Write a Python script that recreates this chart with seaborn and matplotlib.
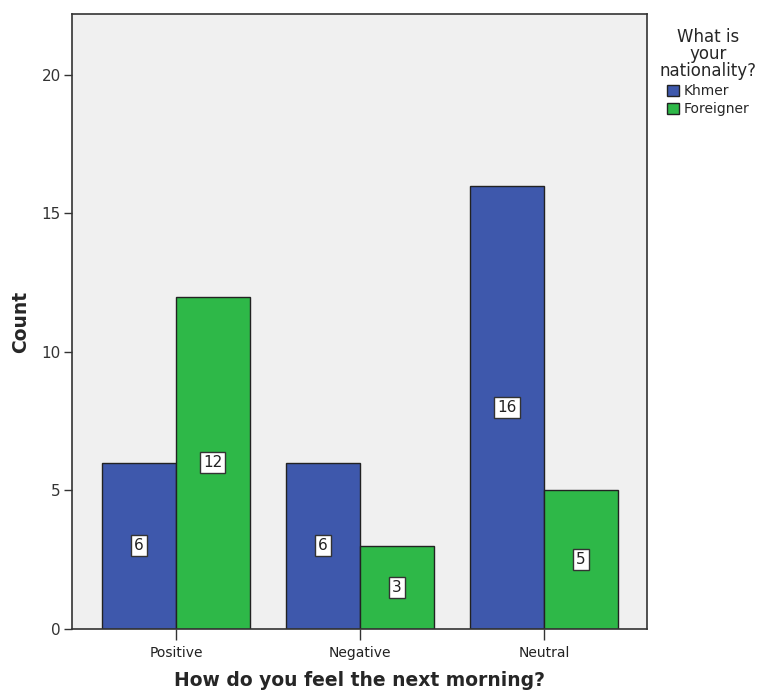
import numpy as np
import pandas as pd
import matplotlib
matplotlib.use("Agg")
import matplotlib.pyplot as plt
import seaborn as sns

feelings = ["Positive", "Negative", "Neutral"]
nationality = ["Khmer", "Foreigner"]
khmer_counts = [6, 6, 16]
foreigner_counts = [12, 3, 5]

df = pd.DataFrame({
    "feeling": feelings * 2,
    "nation": ["Khmer"] * 3 + ["Foreigner"] * 3,
    "count": khmer_counts + foreigner_counts,
})

sns.set_style("white")
plt.rcParams["font.family"] = ["DejaVu Sans"]

fig = plt.figure(figsize=(7.6, 6.9), dpi=100)
ax = fig.add_axes([72 / 760, 1 - 629 / 690, 575 / 760, 615 / 690])
ax.set_facecolor("#f0f0f0")

palette = {"Khmer": "#3e58ac", "Foreigner": "#2eb848"}
sns.barplot(data=df, x="feeling", y="count", hue="nation", order=feelings,
            hue_order=nationality, palette=palette, width=0.8, saturation=1,
            edgecolor="#222222", linewidth=1.0, ax=ax, legend=False)

for cont in ax.containers:
    for rect in cont:
        h = rect.get_height()
        ax.text(rect.get_x() + rect.get_width() / 2, h / 2, f"{int(h)}",
                ha="center", va="center", fontsize=11, color="#222222",
                bbox=dict(boxstyle="square,pad=0.2", fc="white", ec="#333333", lw=1))

ax.set_xlim(-0.565, 2.56)
ax.set_ylim(0, 22.2)
ax.set_yticks([0, 5, 10, 15, 20])
ax.tick_params(axis="y", left=True, length=6, width=1, labelsize=11, color="#333333", labelcolor="#333333", pad=2)
ax.tick_params(axis="x", bottom=True, length=8, width=1, labelsize=10, color="#333333", labelcolor="#222222", pad=4)
for s in ax.spines.values():
    s.set_color("#333333")
    s.set_linewidth(1.2)

ax.set_xlabel("How do you feel the next morning?", fontsize=13.5, fontweight="bold", labelpad=8)
ax.set_ylabel("Count", fontsize=13.5, fontweight="bold", labelpad=8)

handles = [plt.Rectangle((0, 0), 1, 1, fc=palette[n], ec="#222222") for n in nationality]
leg = fig.legend(handles, nationality, title="What is\nyour\nnationality?", loc="upper left",
                 bbox_to_anchor=(654 / 760, 1 - 22 / 690), frameon=False, fontsize=10,
                 title_fontsize=12, handlelength=0.9, handleheight=0.9, handletextpad=0.3,
                 borderaxespad=0, labelspacing=0.3, alignment="center")
leg.get_title().set_multialignment("center")
leg.get_title().set_linespacing(0.95)

fig.savefig("out.png", dpi=100, facecolor="white")
